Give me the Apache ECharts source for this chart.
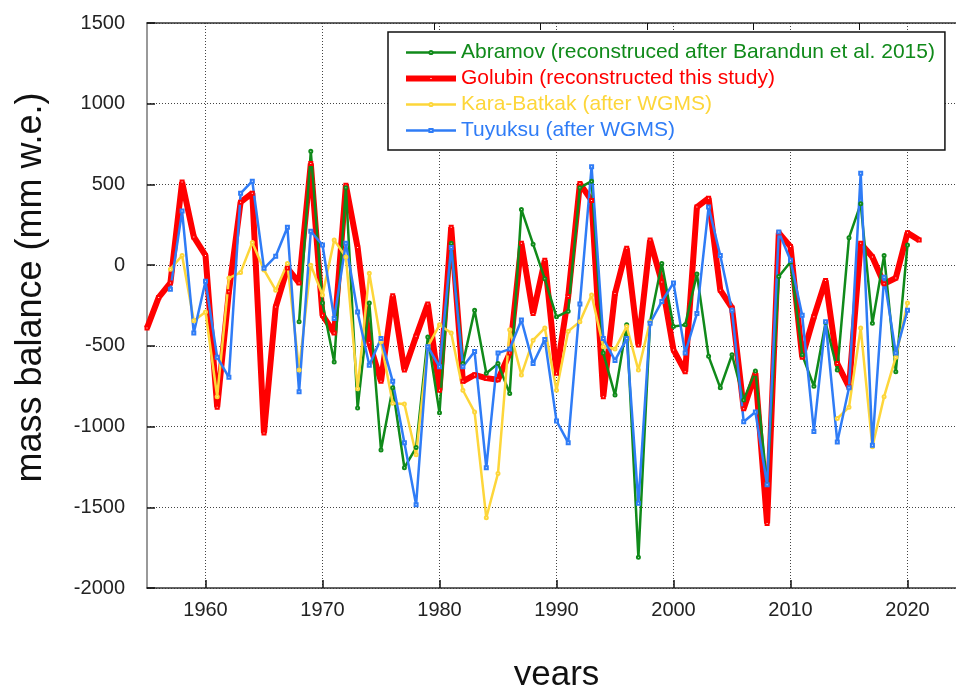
<!DOCTYPE html>
<html style="height: 100%">
<head>
<meta charset="utf-8">
</head>
<body style="height: 100%; margin: 0; background: #fff">
<div id="container" style="width: 956px; height: 685px"></div>
<script type="text/javascript" src="https://cdn.jsdelivr.net/npm/echarts@6/dist/echarts.min.js"></script>
<script type="text/javascript">
// years 1955..2021
var years = [1955,1956,1957,1958,1959,1960,1961,1962,1963,1964,1965,1966,1967,1968,1969,1970,
    1971,1972,1973,1974,1975,1976,1977,1978,1979,1980,1981,1982,1983,1984,1985,1986,1987,1988,
    1989,1990,1991,1992,1993,1994,1995,1996,1997,1998,1999,2000,2001,2002,2003,2004,2005,2006,
    2007,2008,2009,2010,2011,2012,2013,2014,2015,2016,2017,2018,2019,2020,2021];

// mass balance, mm w.e. (null = no value)
var golubin = [-390,-200,-110,515,175,60,-880,-165,390,446,-1040,-260,-18,-110,630,-310,
    -420,495,110,-480,-720,-190,-650,-440,-240,-775,235,-720,-680,-700,-710,-545,135,-300,
    30,-670,-195,505,400,-815,-175,105,-495,155,-105,-525,-660,360,415,-155,-265,-890,
    -670,-1600,200,115,-570,-320,-95,-610,-755,135,50,-115,-80,200,155];

var abramov = [null,null,null,null,null,null,null,null,null,null,null,null,null,-350,705,-235,
    -600,480,-885,-235,-1145,-760,-1255,-1130,-445,-915,136,-610,-280,-670,-610,-795,345,130,
    -85,-320,-285,480,520,-545,-805,-370,-1810,-350,10,-380,-370,-55,-565,-760,-555,-835,
    -655,-1360,-70,20,-555,-750,-355,-650,170,380,-360,60,-660,125,null];

var karaBatkak = [null,null,-25,60,-345,-290,-815,-80,-45,140,-30,-155,10,-650,0,-185,
    155,50,-765,-50,-475,-855,-860,-1175,-505,-370,-420,-775,-910,-1565,-1290,-400,-680,-465,
    -390,-775,-410,-350,-185,-505,-520,-380,-650,-350,null,null,null,null,null,null,null,null,
    null,null,null,null,null,null,null,-950,-880,-390,-1125,-815,-570,-235,null];

var tuyuksu = [null,null,-150,335,-420,-100,-570,-695,445,520,-20,55,235,-785,210,125,
    -330,135,-290,-620,-455,-720,-1100,-1485,-505,-630,110,-630,-535,-1255,-545,-520,-340,-610,
    -460,-965,-1100,-240,610,-455,-590,-455,-1475,-360,-225,-110,-545,-300,360,60,-280,-970,
    -910,-1360,205,30,-310,-1030,-350,-1095,-760,570,-1115,-75,-545,-280,null];

var xTicks = [1960,1970,1980,1990,2000,2010,2020];

var names = [
    'Abramov (reconstruced after Barandun et al. 2015)',
    'Golubin (reconstructed this study)',
    'Kara-Batkak (after WGMS)',
    'Tuyuksu (after WGMS)'
];
var colors = ['#108a1a', '#ff0000', '#fdd63a', '#2f7cf6'];
var widths = [2.5, 6, 2.5, 2.5];

function pairs(vals) {
    return years.map(function (y, i) { return [y, vals[i]]; });
}

function lineSeries(name, vals, color, width, symbol) {
    return {
        name: name,
        type: 'line',
        data: pairs(vals),
        symbol: symbol,
        symbolSize: 3,
        showSymbol: true,
        connectNulls: false,
        lineStyle: { color: color, width: width },
        itemStyle: { color: color, borderColor: color, borderWidth: 1 },
        emphasis: { disabled: true },
        animation: false
    };
}

var plain = function (v) { return String(v); };

var myChart = echarts.init(document.getElementById('container'));

var option = {
    backgroundColor: '#fff',
    animation: false,
    textStyle: { fontFamily: 'Liberation Sans, Arial, sans-serif' },
    grid: { left: 147, top: 23, width: 819, height: 565, outerBoundsMode: 'none', containLabel: false },
    legend: {
        orient: 'vertical',
        left: 388,
        top: 32,
        padding: [10, 10, 9, 15],
        itemWidth: 50,
        itemHeight: 4,
        itemGap: 5,
        backgroundColor: '#fff',
        borderColor: '#111',
        borderWidth: 1.5,
        borderRadius: 0,
        data: names.map(function (n, i) {
            return { name: n, textStyle: { color: colors[i] }, lineStyle: { width: widths[i] } };
        }),
        textStyle: { fontSize: 21 }
    },
    xAxis: [{
        type: 'value',
        min: 1955,
        max: 2025,
        name: 'years',
        nameLocation: 'middle',
        nameGap: 70,
        nameTextStyle: { fontSize: 35, color: '#111' },
        axisLine: { onZero: false, lineStyle: { color: '#333', width: 1.5 } },
        axisTick: { inside: true, length: 8, customValues: xTicks, lineStyle: { color: '#111', width: 1.5 } },
        axisLabel: { customValues: xTicks, formatter: plain, fontSize: 20, color: '#222', margin: 12 },
        splitLine: { show: true, lineStyle: { color: '#444', width: 1, type: [1, 2] } }
    }, {
        type: 'value',
        position: 'top',
        min: -2.7,
        max: 5.0,
        axisLine: { show: true, onZero: false, lineStyle: { color: '#333', width: 1.5 } },
        axisTick: { inside: true, length: 7, customValues: [0, 1, 2, 3, 4], lineStyle: { color: '#111', width: 1 } },
        axisLabel: { show: false },
        splitLine: { show: false }
    }],
    yAxis: {
        type: 'value',
        min: -2000,
        max: 1500,
        interval: 500,
        name: 'mass balance (mm w.e.)',
        nameLocation: 'middle',
        nameGap: 98,
        nameTextStyle: { fontSize: 36, color: '#111', padding: [0, 0, 0, 36] },
        axisLine: { show: true, onZero: false, lineStyle: { color: '#777', width: 1.5 } },
        axisTick: { inside: true, length: 8, lineStyle: { color: '#111', width: 1.5 } },
        axisLabel: { formatter: plain, fontSize: 20, color: '#222', margin: 22 },
        splitLine: { show: true, lineStyle: { color: '#444', width: 1, type: [1, 2] } }
    },
    series: [
        lineSeries(names[1], golubin, colors[1], widths[1], 'emptyRect'),
        lineSeries(names[0], abramov, colors[0], widths[0], 'emptyCircle'),
        lineSeries(names[2], karaBatkak, colors[2], widths[2], 'emptyCircle'),
        lineSeries(names[3], tuyuksu, colors[3], widths[3], 'emptyRect')
    ]
};

myChart.setOption(option);
</script>
</body>
</html>
